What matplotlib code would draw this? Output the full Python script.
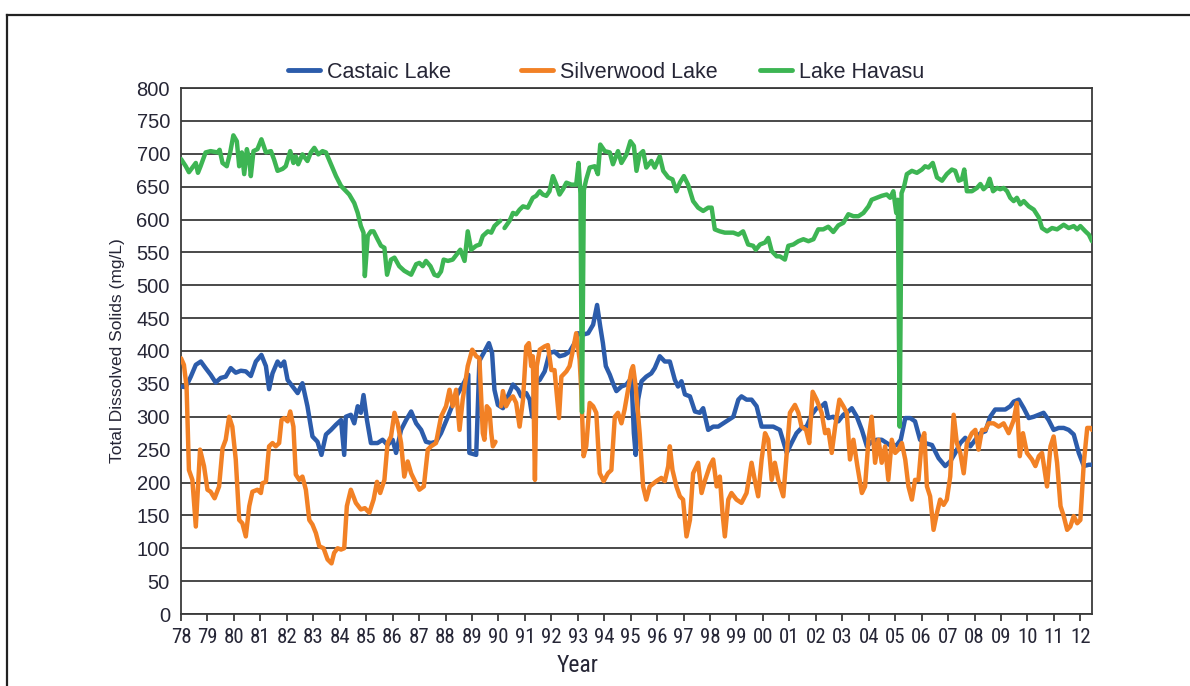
import numpy as np
import matplotlib
matplotlib.use("Agg")
import matplotlib.pyplot as plt
from matplotlib.lines import Line2D
from matplotlib import font_manager as fm

# ---------------- data ----------------
castaic_year = [1978.00, 1978.18, 1978.37, 1978.56, 1978.75, 1978.93, 1979.12, 1979.31, 1979.50, 1979.69,
                1979.88, 1980.07, 1980.26, 1980.45, 1980.64, 1980.83, 1981.04, 1981.21, 1981.33, 1981.46,
                1981.65, 1981.77, 1981.90, 1982.03, 1982.22, 1982.41, 1982.59, 1982.78, 1982.97, 1983.16,
                1983.31, 1983.48, 1983.67, 1983.86, 1984.05, 1984.17, 1984.23, 1984.42, 1984.55, 1984.68,
                1984.80, 1984.90, 1985.03, 1985.18, 1985.43, 1985.62, 1985.81, 1986.00, 1986.13, 1986.32,
                1986.51, 1986.70, 1986.89, 1987.08, 1987.26, 1987.45, 1987.64, 1987.83, 1988.09, 1988.34,
                1988.59, 1988.86, 1988.90, 1989.16, 1989.28, 1989.47, 1989.64, 1989.76, 1989.85, 1989.98,
                1990.17, 1990.36, 1990.55, 1990.74, 1990.86, 1991.05, 1991.18, 1991.28, 1991.37, 1991.56,
                1991.75, 1991.93, 1992.12, 1992.31, 1992.50, 1992.69, 1992.88, 1993.01, 1993.20, 1993.39,
                1993.58, 1993.73, 1993.85, 1993.95, 1994.06, 1994.21, 1994.33, 1994.46, 1994.65, 1994.84,
                1995.03, 1995.12, 1995.19, 1995.28, 1995.41, 1995.59, 1995.78, 1995.91, 1996.10, 1996.29,
                1996.48, 1996.67, 1996.79, 1996.92, 1997.05, 1997.24, 1997.43, 1997.61, 1997.74, 1997.93,
                1998.12, 1998.31, 1998.50, 1998.69, 1998.88, 1999.07, 1999.19, 1999.38, 1999.57, 1999.76,
                1999.95, 2000.14, 2000.39, 2000.64, 2000.90, 2001.08, 2001.27, 2001.46, 2001.65, 2001.84,
                2002.03, 2002.22, 2002.35, 2002.47, 2002.66, 2002.85, 2003.04, 2003.23, 2003.36, 2003.55,
                2003.74, 2003.93, 2004.11, 2004.30, 2004.49, 2004.68, 2004.87, 2005.06, 2005.21, 2005.38,
                2005.57, 2005.75, 2005.94, 2006.13, 2006.39, 2006.64, 2006.89, 2007.08, 2007.27, 2007.46,
                2007.65, 2007.84, 2008.03, 2008.22, 2008.41, 2008.59, 2008.78, 2008.97, 2009.16, 2009.35,
                2009.48, 2009.67, 2009.86, 2010.05, 2010.24, 2010.43, 2010.61, 2010.80, 2010.99, 2011.18,
                2011.37, 2011.56, 2011.75, 2011.94, 2012.13, 2012.32, 2012.44]
castaic_tds = [346, 345, 361, 379, 384, 374, 364, 352, 359, 361,
               374, 367, 370, 369, 362, 384, 394, 377, 342, 366,
               384, 377, 384, 356, 346, 336, 351, 316, 270, 262,
               242, 273, 280, 288, 295, 242, 300, 303, 290, 316,
               306, 333, 295, 260, 260, 265, 257, 265, 245, 280,
               295, 308, 290, 280, 262, 260, 262, 275, 300, 326,
               344, 364, 245, 242, 385, 399, 412, 397, 341, 318,
               313, 331, 349, 341, 331, 336, 326, 300, 351, 356,
               369, 397, 399, 392, 394, 399, 412, 427, 425, 427,
               440, 470, 437, 412, 377, 364, 351, 339, 346, 349,
               359, 275, 242, 326, 354, 361, 366, 374, 392, 384,
               384, 356, 346, 354, 334, 331, 308, 306, 313, 280,
               285, 285, 290, 295, 300, 326, 331, 326, 326, 316,
               285, 285, 285, 280, 245, 260, 275, 283, 285, 303,
               313, 316, 321, 298, 300, 293, 303, 308, 313, 300,
               280, 255, 262, 265, 265, 260, 255, 257, 265, 298,
               298, 293, 265, 260, 257, 237, 225, 232, 245, 260,
               268, 255, 265, 275, 278, 300, 311, 311, 311, 316,
               323, 326, 313, 298, 300, 303, 306, 295, 280, 283,
               283, 280, 273, 245, 225, 227, 227]

silverwood_year = [1978.00, 1978.11, 1978.21, 1978.30, 1978.43, 1978.56, 1978.72, 1978.87, 1979.00, 1979.12,
                   1979.27, 1979.44, 1979.57, 1979.69, 1979.82, 1979.94, 1980.07, 1980.20, 1980.32, 1980.45,
                   1980.58, 1980.70, 1980.89, 1981.02, 1981.08, 1981.21, 1981.33, 1981.46, 1981.58, 1981.71,
                   1981.80, 1981.90, 1982.03, 1982.13, 1982.25, 1982.34, 1982.47, 1982.59, 1982.72, 1982.85,
                   1982.97, 1983.10, 1983.23, 1983.39, 1983.54, 1983.69, 1983.79, 1983.92, 1984.05, 1984.17,
                   1984.27, 1984.42, 1984.61, 1984.80, 1984.95, 1985.12, 1985.28, 1985.41, 1985.53, 1985.69,
                   1985.81, 1985.94, 1986.07, 1986.19, 1986.32, 1986.44, 1986.57, 1986.70, 1986.82, 1987.01,
                   1987.18, 1987.33, 1987.45, 1987.64, 1987.83, 1988.02, 1988.15, 1988.27, 1988.40, 1988.53,
                   1988.65, 1988.84, 1989.01, 1989.16, 1989.28, 1989.41, 1989.47, 1989.56, 1989.66, 1989.73,
                   1989.79, 1989.89, 1989.99, 1990.10, 1990.17, 1990.29, 1990.42, 1990.55, 1990.67, 1990.80,
                   1990.93, 1991.05, 1991.15, 1991.24, 1991.30, 1991.38, 1991.45, 1991.56, 1991.75, 1991.87,
                   1992.00, 1992.12, 1992.29, 1992.38, 1992.57, 1992.69, 1992.82, 1992.94, 1993.07, 1993.13,
                   1993.22, 1993.32, 1993.45, 1993.58, 1993.70, 1993.83, 1993.98, 1994.14, 1994.27, 1994.40,
                   1994.52, 1994.65, 1994.77, 1994.90, 1995.03, 1995.09, 1995.19, 1995.34, 1995.47, 1995.59,
                   1995.72, 1995.97, 1996.16, 1996.29, 1996.42, 1996.48, 1996.58, 1996.73, 1996.86, 1996.98,
                   1997.11, 1997.24, 1997.36, 1997.55, 1997.68, 1997.80, 1997.99, 1998.12, 1998.25, 1998.37,
                   1998.47, 1998.56, 1998.69, 1998.81, 1999.00, 1999.19, 1999.38, 1999.57, 1999.70, 1999.82,
                   1999.95, 2000.08, 2000.20, 2000.33, 2000.45, 2000.58, 2000.77, 2000.90, 2001.02, 2001.21,
                   2001.34, 2001.46, 2001.63, 2001.75, 2001.88, 2002.03, 2002.22, 2002.35, 2002.47, 2002.60,
                   2002.73, 2002.89, 2003.04, 2003.17, 2003.29, 2003.42, 2003.57, 2003.74, 2003.86, 2003.99,
                   2004.11, 2004.24, 2004.37, 2004.49, 2004.62, 2004.74, 2004.87, 2005.00, 2005.12, 2005.25,
                   2005.38, 2005.50, 2005.63, 2005.75, 2005.88, 2006.01, 2006.10, 2006.20, 2006.32, 2006.45,
                   2006.58, 2006.70, 2006.83, 2006.95, 2007.08, 2007.21, 2007.33, 2007.46, 2007.59, 2007.71,
                   2007.90, 2008.03, 2008.15, 2008.28, 2008.41, 2008.53, 2008.72, 2008.91, 2009.10, 2009.29,
                   2009.48, 2009.60, 2009.71, 2009.83, 2009.98, 2010.17, 2010.30, 2010.43, 2010.55, 2010.74,
                   2010.87, 2010.99, 2011.12, 2011.25, 2011.37, 2011.50, 2011.62, 2011.75, 2011.88, 2012.00,
                   2012.13, 2012.26, 2012.38, 2012.44]
silverwood_tds = [389, 379, 346, 219, 204, 133, 250, 225, 189, 186,
                  176, 194, 252, 265, 300, 285, 235, 143, 138, 118,
                  164, 186, 189, 184, 199, 201, 255, 260, 255, 260,
                  295, 298, 293, 308, 285, 212, 204, 209, 189, 143,
                  136, 123, 103, 100, 83, 77, 93, 100, 98, 100,
                  164, 189, 169, 159, 161, 154, 174, 201, 184, 204,
                  260, 270, 306, 290, 260, 209, 232, 214, 204, 189,
                  194, 250, 255, 260, 300, 316, 341, 316, 341, 280,
                  326, 377, 402, 392, 389, 275, 265, 316, 311, 275,
                  255, 262, np.nan, 316, 339, 316, 326, 331, 321, 285,
                  326, 407, 412, 377, 392, 204, 377, 402, 407, 409,
                  371, 371, 298, 361, 369, 377, 402, 427, 387, 341,
                  240, 255, 321, 316, 306, 214, 202, 214, 219, 300,
                  306, 290, 311, 341, 371, 377, 346, 275, 194, 174,
                  194, 202, 207, 202, 225, 255, 219, 194, 179, 174,
                  118, 143, 214, 230, 184, 202, 225, 235, 194, 209,
                  154, 118, 174, 184, 174, 169, 184, 230, 202, 179,
                  235, 275, 265, 204, 230, 204, 179, 245, 306, 318,
                  306, 285, 280, 260, 338, 326, 306, 275, 280, 245,
                  285, 326, 316, 306, 235, 265, 225, 184, 194, 265,
                  300, 230, 265, 230, 255, 204, 265, 245, 250, 260,
                  235, 194, 174, 204, 204, 265, 275, 194, 179, 128,
                  154, 174, 166, 174, 209, 303, 260, 245, 214, 260,
                  275, 280, 250, 280, 280, 290, 290, 285, 290, 275,
                  295, 321, 240, 275, 245, 235, 225, 240, 245, 194,
                  255, 270, 230, 164, 149, 128, 133, 149, 138, 143,
                  230, 283, 283, 280]

havasu_year = [1978.00, 1978.18, 1978.30, 1978.43, 1978.56, 1978.64, 1978.74, 1978.93, 1979.12, 1979.25,
               1979.38, 1979.46, 1979.57, 1979.73, 1979.86, 1979.98, 1980.11, 1980.20, 1980.30, 1980.39,
               1980.49, 1980.58, 1980.64, 1980.74, 1980.89, 1981.04, 1981.21, 1981.40, 1981.52, 1981.65,
               1981.84, 1981.96, 1982.13, 1982.25, 1982.34, 1982.43, 1982.59, 1982.78, 1982.91, 1983.04,
               1983.19, 1983.35, 1983.48, 1983.67, 1983.86, 1984.05, 1984.24, 1984.36, 1984.55, 1984.68,
               1984.80, 1984.90, 1984.95, 1985.06, 1985.18, 1985.28, 1985.43, 1985.56, 1985.69, 1985.79,
               1985.94, 1986.07, 1986.25, 1986.44, 1986.57, 1986.70, 1986.89, 1987.01, 1987.14, 1987.26,
               1987.43, 1987.58, 1987.71, 1987.83, 1987.93, 1988.09, 1988.27, 1988.46, 1988.56, 1988.72,
               1988.84, 1988.97, 1989.16, 1989.30, 1989.41, 1989.60, 1989.73, 1989.85, 1989.98, 1990.07,
               1990.15, 1990.23, 1990.42, 1990.55, 1990.67, 1990.80, 1990.93, 1991.11, 1991.30, 1991.43,
               1991.56, 1991.68, 1991.81, 1991.93, 1992.06, 1992.19, 1992.31, 1992.44, 1992.57, 1992.76,
               1992.94, 1993.03, 1993.10, 1993.16, 1993.23, 1993.32, 1993.45, 1993.64, 1993.76, 1993.85,
               1994.02, 1994.21, 1994.33, 1994.52, 1994.65, 1994.84, 1994.99, 1995.12, 1995.22, 1995.34,
               1995.47, 1995.59, 1995.78, 1995.91, 1996.10, 1996.23, 1996.42, 1996.58, 1996.73, 1996.86,
               1997.01, 1997.17, 1997.36, 1997.55, 1997.74, 1997.93, 1998.06, 1998.18, 1998.37, 1998.56,
               1998.69, 1998.88, 1999.07, 1999.25, 1999.44, 1999.63, 1999.73, 1999.89, 2000.08, 2000.20,
               2000.33, 2000.52, 2000.64, 2000.83, 2000.96, 2001.15, 2001.34, 2001.53, 2001.72, 2001.91,
               2002.09, 2002.28, 2002.47, 2002.66, 2002.85, 2003.04, 2003.23, 2003.42, 2003.61, 2003.80,
               2003.99, 2004.11, 2004.30, 2004.49, 2004.68, 2004.81, 2004.93, 2005.04, 2005.10, 2005.17,
               2005.24, 2005.34, 2005.44, 2005.63, 2005.82, 2006.01, 2006.13, 2006.26, 2006.42, 2006.58,
               2006.77, 2006.95, 2007.14, 2007.27, 2007.40, 2007.52, 2007.61, 2007.71, 2007.90, 2008.09,
               2008.22, 2008.34, 2008.47, 2008.57, 2008.70, 2008.85, 2008.97, 2009.10, 2009.23, 2009.35,
               2009.48, 2009.60, 2009.73, 2009.86, 2010.05, 2010.24, 2010.43, 2010.55, 2010.74, 2010.93,
               2011.12, 2011.37, 2011.56, 2011.75, 2011.88, 2012.00, 2012.19, 2012.32, 2012.44]
havasu_tds = [692, 681, 672, 679, 686, 671, 681, 702, 704, 703,
              702, 706, 686, 681, 702, 728, 719, 681, 702, 669,
              707, 691, 666, 704, 707, 722, 702, 704, 691, 674,
              677, 681, 704, 686, 696, 684, 699, 689, 702, 709,
              699, 704, 702, 684, 666, 651, 643, 638, 625, 610,
              590, 580, 514, 575, 582, 582, 570, 560, 557, 516,
              539, 542, 529, 522, 519, 516, 532, 534, 529, 537,
              529, 516, 514, 521, 539, 537, 539, 549, 554, 537,
              582, 554, 560, 562, 575, 582, 580, 590, 595, 598,
              np.nan, 587, 598, 610, 608, 615, 620, 618, 633, 636,
              643, 638, 636, 643, 666, 653, 638, 646, 656, 653,
              653, 686, 640, 307, 645, 661, 679, 681, 669, 714,
              704, 702, 684, 704, 686, 699, 719, 712, 674, 699,
              704, 679, 689, 679, 696, 674, 664, 661, 643, 656,
              666, 653, 628, 618, 613, 618, 618, 585, 582, 580,
              580, 580, 577, 582, 562, 560, 554, 562, 565, 572,
              552, 544, 544, 539, 560, 562, 567, 570, 567, 570,
              585, 585, 589, 581, 591, 595, 608, 605, 605, 610,
              620, 630, 633, 636, 638, 633, 643, 610, 630, 285,
              640, 651, 669, 674, 671, 676, 681, 679, 686, 664,
              659, 669, 676, 674, 659, 661, 676, 643, 643, 648,
              654, 646, 651, 662, 643, 648, 646, 648, 643, 633,
              628, 633, 623, 628, 620, 615, 603, 587, 582, 587,
              585, 592, 587, 590, 585, 590, 582, 577, 567]

series_names = ["Castaic Lake", "Silverwood Lake", "Lake Havasu"]
series_colors = ["#2c5cab", "#f28125", "#3db553"]

year_ticks = list(range(1978, 2013))
year_labels = ["78", "79", "80", "81", "82", "83", "84", "85", "86", "87", "88", "89",
               "90", "91", "92", "93", "94", "95", "96", "97", "98", "99", "00", "01",
               "02", "03", "04", "05", "06", "07", "08", "09", "10", "11", "12"]
tds_ticks = list(range(0, 801, 50))

# ---------------- fonts: find a narrow sans if one is installed ----------------
regular = ["Liberation Sans", "DejaVu Sans"]
_fonts = fm.fontManager.ttflist
_names = {f.name for f in _fonts}
narrow_family, narrow_stretch, narrow_size = None, "normal", 15
for cand in ["Liberation Sans Narrow", "Arial Narrow", "Roboto Condensed", "Open Sans Condensed",
             "Noto Sans Condensed", "DejaVu Sans Condensed"]:
    if cand in _names:
        narrow_family = cand
        break
if narrow_family is None:
    for fam in ["Liberation Sans", "Noto Sans", "Roboto", "Open Sans", "DejaVu Sans"]:
        if any(f.name == fam and str(f.stretch) in ("condensed", "semi-condensed", "75", "87.5")
               and str(f.weight) in ("normal", "400", "regular") and f.style == "normal" for f in _fonts):
            narrow_family, narrow_stretch = fam, "condensed"
            break
if narrow_family is None:
    narrow_family, narrow_size = "Liberation Sans", 13
narrow = [narrow_family, "Liberation Sans", "DejaVu Sans"]

# ---------------- figure ----------------
W, H = 1190, 686
fig = plt.figure(figsize=(W / 100, H / 100), dpi=100)
fig.patch.set_facecolor("white")

# outer frame (top and left edges visible in the reference)
fig.add_artist(Line2D([7 / W, 7 / W], [0, 1 - 15 / H], transform=fig.transFigure,
                      color="#222222", lw=1.6))
fig.add_artist(Line2D([7 / W, 1], [1 - 15 / H, 1 - 15 / H], transform=fig.transFigure,
                      color="#222222", lw=1.6))

left, right, top, bottom = 181, 1092, 88, 614
ax = fig.add_axes([left / W, 1 - bottom / H, (right - left) / W, (bottom - top) / H])

text_col = "#262636"

for yrs, vals, name, col, z in zip([castaic_year, silverwood_year, havasu_year],
                                   [castaic_tds, silverwood_tds, havasu_tds],
                                   series_names, series_colors, [3, 4, 5]):
    ax.plot(yrs, vals, color=col, lw=3.2, label=name, zorder=z,
            solid_joinstyle="round", solid_capstyle="round")

ax.set_xlim(1978, 2012.44)
ax.set_ylim(0, 800)
ax.set_yticks(tds_ticks)
ax.set_xticks(year_ticks)
ax.set_xticklabels(year_labels, fontfamily=narrow, fontstretch=narrow_stretch,
                   fontsize=narrow_size, color=text_col)
for lab in ax.get_yticklabels():
    lab.set_fontfamily(regular)
    lab.set_fontsize(14.5)
    lab.set_color(text_col)

ax.yaxis.grid(True, color="#3a3a3a", lw=1.3, zorder=1)
ax.set_axisbelow(True)
ax.tick_params(axis="y", length=0, pad=8)
ax.tick_params(axis="x", direction="out", length=5, width=1.3, color="#3a3a3a", pad=5)
for sp in ax.spines.values():
    sp.set_color("#3a3a3a")
    sp.set_linewidth(1.3)

ax.set_ylabel("Total Dissolved Solids (mg/L)", fontfamily=regular, fontsize=12.5, color=text_col)
ax.yaxis.set_label_coords((125 - left) / (right - left), 0.5)
ax.set_xlabel("Year", fontfamily=narrow, fontstretch=narrow_stretch,
              fontsize=17 if narrow_size == 15 else 15.5, color=text_col)
ax.xaxis.set_label_coords((578 - left) / (right - left), -(665 - bottom) / (bottom - top))
ax.xaxis.label.set_va("center")

# legend: three entries placed in equal-width slots as in the reference
handles, labels = ax.get_legend_handles_labels()
slot_x = [288, 521, 760]
for h, l, sx in zip(handles, labels, slot_x):
    leg = fig.legend([h], [l], loc="center left", frameon=False,
                     bbox_to_anchor=(sx / W, 1 - 72 / H),
                     prop={"family": regular, "size": 15.5},
                     handlelength=1.5, handletextpad=0.3,
                     borderpad=0, borderaxespad=0)
    for t in leg.get_texts():
        t.set_color(text_col)
    for lh in leg.get_lines():
        lh.set_linewidth(3.5)

fig.savefig("out.png", dpi=100, facecolor="white")
